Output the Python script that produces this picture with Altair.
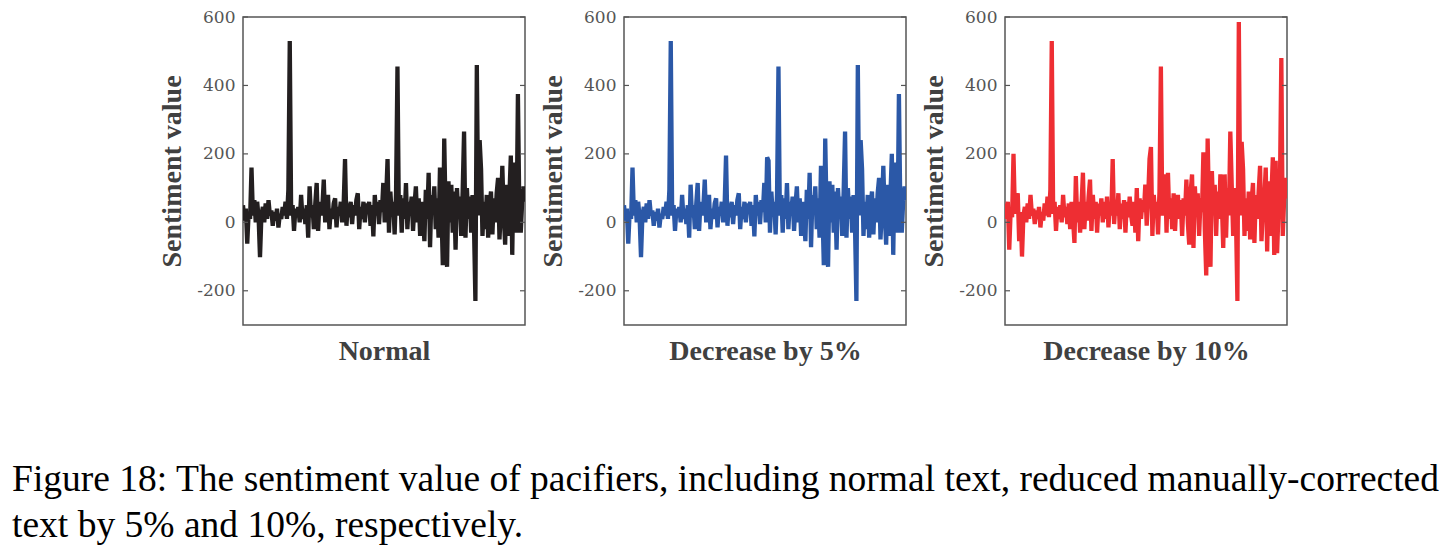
import altair as alt
import pandas as pd

normal = [50, 5, 40, -62, 30, 10, 160, 20, 65, 0,
          60, 15, -102, 20, 45, 0, 55, 10, 65, 20,
          35, -10, 30, 5, 40, -15, 25, 10, 45, 20,
          60, 10, 95, 530, 20, 50, -25, 40, 15, 45,
          0, 80, 10, 40, -5, 50, -45, 105, 15, 50,
          -20, 55, 115, -25, 60, 20, 45, 125, 0, 60,
          80, -20, 40, 10, 55, 70, -15, 45, 20, 60,
          0, 50, 185, -10, 55, 15, 60, -5, 50, 20,
          65, 85, -20, 45, 10, 60, 0, 55, 25, 60,
          -10, 50, -41, 80, 20, 60, -5, 65, 30, 115,
          0, 70, 185, -30, 90, 20, 60, -35, 85, 455,
          20, 80, -30, 70, 10, 115, -20, 60, 30, 75,
          -25, 50, 105, 0, 70, -40, 60, 20, -55, 95,
          10, 145, -73, 80, 30, 105, -20, 70, -45, 160,
          40, -125, 245, 20, -130, 120, 0, 110, -30, 90,
          -80, 100, 20, 75, -40, 90, 265, -45, 100, 10,
          75, -30, 80, -10, -230, 460, 20, 240, 155, -40,
          60, -20, 80, -45, 50, 90, -35, 70, 0, 85,
          130, -50, 40, 165, 20, -65, 110, -40, 80, 195,
          -95, 175, 20, -30, 375, 40, -30, 60, 105, 60]

dec5 = [50, 5, 40, -62, 30, 10, 160, 20, 65, 0,
        60, 15, -102, 20, 45, 0, 55, 10, 65, 20,
        35, -10, 30, 5, 40, -15, 25, 10, 45, 20,
        60, 10, 95, 530, 20, 50, -25, 40, 15, 45,
        0, 80, 10, 40, -5, 50, -45, 110, 15, 50,
        -20, 55, 115, -25, 60, 20, 45, 125, 0, 60,
        80, -20, 40, 10, 55, 70, -15, 45, 20, 60,
        0, 50, 195, -10, 55, 15, 60, -5, 50, 20,
        65, 85, -20, 45, 10, 60, 0, 55, 25, 60,
        -10, 50, -41, 80, 20, 60, -5, 65, 30, 115,
        0, 190, 180, -30, 90, 20, 60, -35, 85, 455,
        20, 80, -30, 70, 10, 115, -20, 60, 30, 75,
        -25, 50, 105, 0, 70, -40, 60, 20, -55, 95,
        10, 145, -73, 80, 30, 105, -20, 70, -45, 165,
        40, -125, 245, 20, -130, 120, 0, 110, -30, 90,
        -80, 100, 20, 75, -40, 90, 265, -45, 100, 10,
        75, -30, 80, -10, -230, 460, 20, 240, 155, -40,
        60, -20, 80, -45, 50, 90, -35, 70, 0, 85,
        130, -50, 40, 165, 20, -65, 110, -40, 80, 200,
        -95, 175, 20, -30, 375, 40, -30, 60, 105, 65]

dec10 = [55, 10, 60, -80, 35, 15, 200, 25, 70, 85,
         -55, 30, -100, 20, 45, 0, 55, 10, 80, 20,
         40, -5, 35, 10, 45, -15, 30, 5, 55, 20,
         75, 15, 95, 530, 25, 60, -25, 45, 10, 50,
         0, 80, 15, 45, -5, 55, -20, 60, 10, -60,
         135, 0, 60, -30, 50, 145, -20, 60, 5, 75,
         125, -25, 80, 10, 60, -30, 55, 20, 70, 0,
         60, 10, 75, -15, 55, 20, 185, -5, 60, 20,
         85, -20, 55, 10, 65, -30, 60, 15, 75, 20,
         -10, 60, -30, 100, -55, 70, 10, 65, 30, 110,
         -10, 70, 185, 220, -40, 80, 20, 60, -35, 90,
         455, 20, 75, 140, -30, 145, 10, 70, -20, 85,
         -25, 60, 80, 10, 65, -40, 70, 20, 125, 0,
         -65, 90, 140, -75, 105, 20, 85, -40, 70, 30,
         205, -20, -155, 245, 30, -130, 150, 20, 110, -40,
         90, 10, 140, 60, -75, 140, -45, 100, 20, 265,
         110, -40, 100, 10, -230, 585, 20, 235, 155, -40,
         70, -25, 90, -50, 60, 115, -60, 80, 10, 90,
         165, -55, 40, 70, 160, -85, 120, -40, 80, 190,
         -95, 180, -90, 30, 100, 480, -40, 70, 130, 70]

y_ticks = [-200, 0, 200, 400, 600]
panel_titles = ["Normal", "Decrease by 5%", "Decrease by 10%"]
colors = ["#231f20", "#2b58a7", "#ee2e33"]
caption = ["Figure 18: The sentiment value of pacifiers, including normal text, reduced manually-corrected",
           "text by 5% and 10%, respectively."]

W, H = 282, 308
SERIF = "Liberation Serif"


def panel(vals, title, color):
    n = len(vals)
    df = pd.DataFrame({"i": list(range(n)), "v": vals})
    tdf = pd.DataFrame({"v": y_ticks})
    xenc = alt.X("i:Q", scale=alt.Scale(domain=[0, n - 1], nice=False, zero=False),
                 axis=alt.Axis(title=title, labels=False, ticks=False, domain=False, grid=False,
                               titlePadding=12, titleFont=SERIF, titleFontSize=28,
                               titleFontWeight="bold", titleColor="#404040"))
    yenc = alt.Y("v:Q", scale=alt.Scale(domain=[-300, 600], nice=False, zero=False),
                 axis=alt.Axis(title="Sentiment value", values=y_ticks, ticks=False, domain=False,
                               grid=False, labelFont="DejaVu Serif", labelFontSize=17,
                               labelColor="#555555", labelExpr="datum.value + ''",
                               labelPadding=8, titlePadding=10, titleFont=SERIF, titleFontSize=28,
                               titleFontWeight="bold", titleColor="#404040"))
    line = alt.Chart(df).mark_line(color=color, strokeWidth=4.3, clip=True).encode(x=xenc, y=yenc)
    lt = alt.Chart(tdf).mark_rule(color="#555555", strokeWidth=1.2).encode(
        y=yenc, x=alt.value(0), x2=alt.value(5))
    rt = alt.Chart(tdf).mark_rule(color="#555555", strokeWidth=1.2).encode(
        y=yenc, x=alt.value(W - 5), x2=alt.value(W))
    return alt.layer(line, lt, rt).properties(width=W, height=H)


chart = alt.hconcat(
    panel(normal, panel_titles[0], colors[0]),
    panel(dec5, panel_titles[1], colors[1]),
    panel(dec10, panel_titles[2], colors[2]),
    spacing=12,
).properties(
    title=alt.TitleParams(text=caption, orient="bottom", anchor="start", font=SERIF,
                          fontSize=37.5, fontWeight="normal", color="#000000",
                          lineHeight=46, offset=95, dx=-146),
    padding={"left": 12, "top": 7, "right": 0, "bottom": 0},
).configure_view(stroke="#555555", strokeWidth=1.5)

chart.save("out.html", embed_options={"renderer": "svg", "actions": False})
